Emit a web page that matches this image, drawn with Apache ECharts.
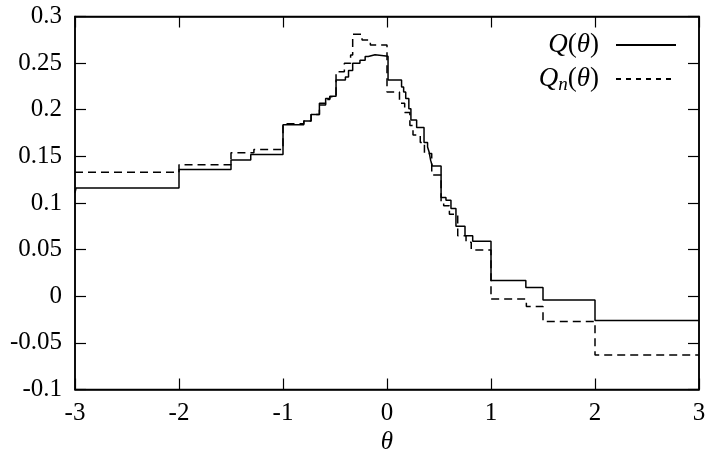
<!DOCTYPE html>
<html><head><meta charset="utf-8">
<script src="https://cdn.jsdelivr.net/npm/echarts@6/dist/echarts.min.js"></script>
<style>html,body{margin:0;padding:0;background:#fff}#c{width:710px;height:450px}</style>
</head><body><div id="c"></div>
<script>
// Step functions: [theta where step starts, value]
const qTheta = [-3.00,-2.99,-2.00,-1.50,-1.31,-1.00,-0.80,-0.73,-0.65,-0.59,-0.55,-0.49,-0.40,-0.37,-0.33,-0.26,-0.21,-0.18,-0.115,0.01,0.14,0.16,0.18,0.21,0.23,0.285,0.356,0.39,0.405,0.42,0.435,0.52,0.567,0.615,0.663,0.75,0.824,1.00,1.335,1.50,2.00,3.00];
const qValue = [0.111,0.116,0.136,0.146,0.152,0.184,0.188,0.195,0.207,0.212,0.2145,0.232,0.235,0.242,0.250,0.253,0.257,0.259,0.2575,0.232,0.2245,0.219,0.212,0.201,0.189,0.181,0.165,0.160,0.1546,0.1457,0.1396,0.106,0.103,0.094,0.075,0.065,0.059,0.017,0.0095,-0.004,-0.026,-0.026];
const qnTheta = [-3.00,-2.00,-1.50,-1.28,-1.00,-0.80,-0.73,-0.65,-0.59,-0.55,-0.49,-0.41,-0.35,-0.33,-0.24,-0.16,0.00,0.12,0.17,0.22,0.25,0.32,0.36,0.43,0.52,0.545,0.60,0.68,0.76,0.81,1.00,1.34,1.50,2.00,3.00];
const qnValue = [0.133,0.141,0.154,0.1575,0.185,0.188,0.195,0.205,0.211,0.214,0.2407,0.250,0.2586,0.281,0.2747,0.2694,0.219,0.207,0.197,0.183,0.173,0.165,0.153,0.130,0.100,0.097,0.088,0.065,0.058,0.0497,-0.003,-0.011,-0.027,-0.063,-0.063];
const xTicks = [-3,-2,-1,0,1,2,3];
const yTicks = ['-0.1','-0.05','0','0.05','0.1','0.15','0.2','0.25','0.3'];
const seriesNames = ['Q(θ)','Qn(θ)'];

const FONT = 'Liberation Serif';
const chart = echarts.init(document.getElementById('c'));
const zip = (a,b)=>a.map((x,i)=>[x,b[i]]);
const tickCommon = {show:true, inside:true, length:11, lineStyle:{color:'#000', width:1.2}};
chart.setOption({
  animation:false,
  backgroundColor:'#fff',
  grid:{left:75, right:11, top:16.5, bottom:60.5, show:true, borderColor:'#000', borderWidth:1.5, outerBoundsMode:'none', containLabel:false},
  legend:{
    orient:'vertical', right:28, top:25, align:'right', itemGap:4,
    itemWidth:60, itemHeight:14,
    itemStyle:{opacity:0},
    data:[{name:seriesNames[0]},
          {name:seriesNames[1], lineStyle:{type:[5,5]}}],
    formatter:function(n){
      return n==='Q(θ)' ? '{i|Q}({i|θ})' : '{i|Q}{s|n}({i|θ})';
    },
    textStyle:{fontFamily:FONT, fontSize:27, color:'#000', padding:[0,12,0,0], lineHeight:30,
      rich:{i:{fontFamily:FONT, fontStyle:'italic', fontSize:27, color:'#000'},
            s:{fontFamily:FONT, fontStyle:'italic', fontSize:19, color:'#000', padding:[12,0,0,0]}}}
  },
  xAxis:[{
    type:'value', min:-3, max:3, interval:1, position:'bottom',
    axisLine:{show:true, onZero:false, lineStyle:{color:'#000', width:1.5}},
    axisTick:tickCommon, splitLine:{show:false},
    axisLabel:{fontFamily:FONT, fontSize:25, color:'#000', margin:11,
      formatter:v=>{const i=xTicks.indexOf(Math.round(v)); return i>=0?String(xTicks[i]):'';}},
    name:'θ', nameLocation:'middle', nameGap:40,
    nameTextStyle:{fontFamily:FONT, fontStyle:'italic', fontSize:25, color:'#000'}
  },{
    type:'value', min:-3, max:3, interval:1, position:'top',
    axisLine:{show:true, onZero:false, lineStyle:{color:'#000', width:1.5}},
    axisTick:tickCommon, axisLabel:{show:false}, splitLine:{show:false}
  }],
  yAxis:[{
    type:'value', min:-0.1, max:0.3, interval:0.05, position:'left',
    axisLine:{show:true, onZero:false, lineStyle:{color:'#000', width:1.5}},
    axisTick:tickCommon, splitLine:{show:false},
    axisLabel:{fontFamily:FONT, fontSize:25, color:'#000', margin:13,
      formatter:v=>{const i=Math.round((v+0.1)/0.05); return yTicks[i]!==undefined?yTicks[i]:'';}}
  },{
    type:'value', min:-0.1, max:0.3, interval:0.05, position:'right',
    axisLine:{show:true, onZero:false, lineStyle:{color:'#000', width:1.5}},
    axisTick:tickCommon, axisLabel:{show:false}, splitLine:{show:false}
  }],
  series:[{
    name:seriesNames[0], type:'line', step:'end', symbol:'none',
    data:zip(qTheta,qValue),
    lineStyle:{color:'#000', width:1.5}, itemStyle:{color:'#000'}
  },{
    name:seriesNames[1], type:'line', step:'end', symbol:'none',
    data:zip(qnTheta,qnValue),
    lineStyle:{color:'#000', width:1.5, type:[8,5]}, itemStyle:{color:'#000'}
  }]
});
</script></body></html>
